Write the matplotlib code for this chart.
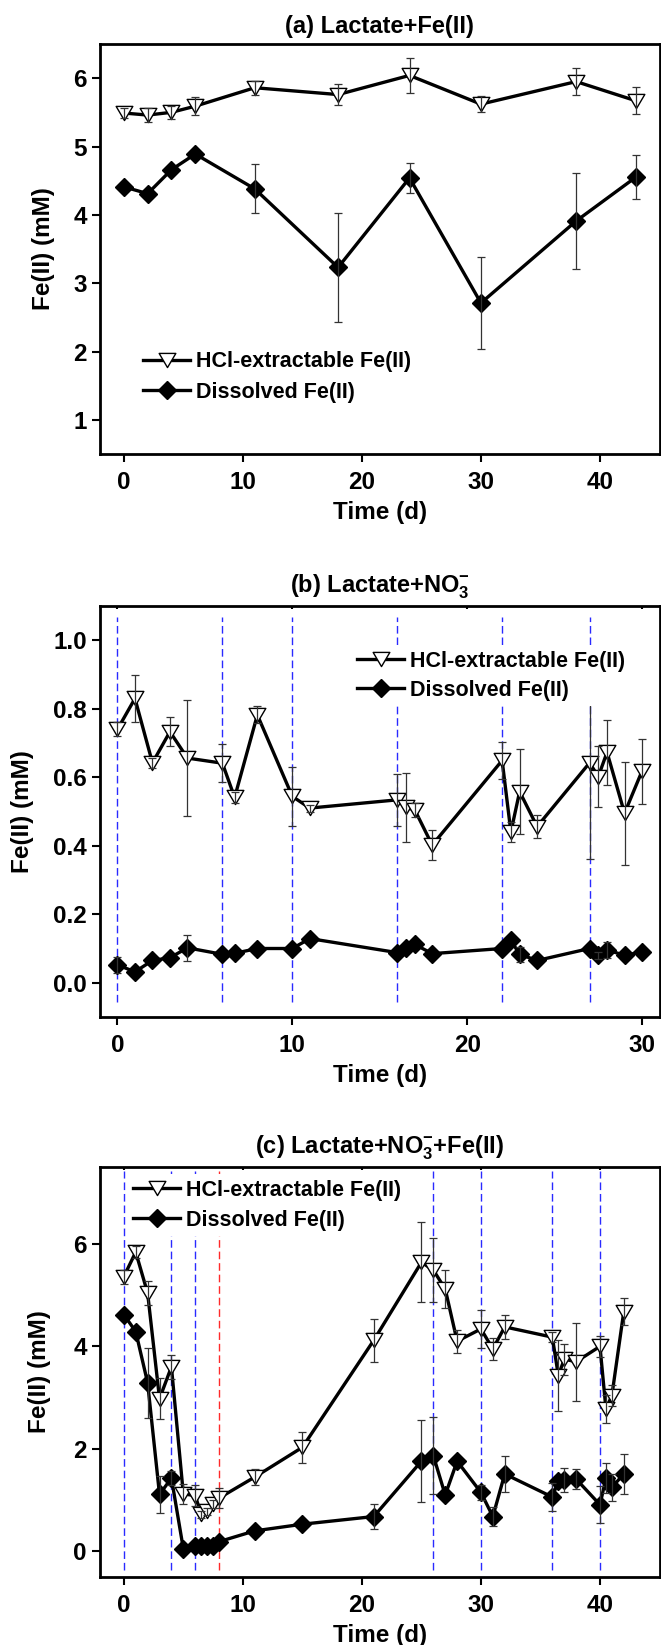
import matplotlib
matplotlib.use('Agg')
import matplotlib.pyplot as plt
from matplotlib.path import Path
from matplotlib.ticker import FormatStrFormatter
import numpy as np

plt.rcParams['font.family'] = ['Liberation Sans', 'DejaVu Sans']
plt.rcParams['font.weight'] = 'bold'
plt.rcParams['mathtext.fontset'] = 'custom'
plt.rcParams['mathtext.rm'] = 'Liberation Sans:bold'
plt.rcParams['mathtext.bf'] = 'Liberation Sans:bold'
plt.rcParams['mathtext.it'] = 'Liberation Sans:bold'
plt.rcParams['mathtext.default'] = 'rm'

# ---------------- data ----------------
# (a) Lactate+Fe(II)
time_a = [0, 2, 4, 6, 11, 18, 24, 30, 38, 43]
hcl_a = [5.49, 5.46, 5.50, 5.59, 5.86, 5.76, 6.04, 5.62, 5.95, 5.67]
hcl_a_err = [0.08, 0.10, 0.10, 0.13, 0.10, 0.15, 0.26, 0.12, 0.20, 0.20]
dis_a = [4.41, 4.31, 4.66, 4.89, 4.38, 3.23, 4.54, 2.71, 3.91, 4.55]
dis_a_err = [0, 0, 0, 0, 0.36, 0.80, 0.22, 0.67, 0.70, 0.32]

# (b) Lactate+NO3-
time_b = [0, 1, 2, 3, 4, 6, 6.7, 8, 10, 11, 16, 16.5, 17, 18, 22, 22.5, 23, 24,
          27, 27.5, 28, 29, 30]
hcl_b = [0.74, 0.83, 0.642, 0.733, 0.656, 0.641, 0.541, 0.782, 0.544, 0.51,
         0.534, 0.512, 0.505, 0.402, 0.649, 0.44, 0.558, 0.456, 0.642, 0.602,
         0.673, 0.495, 0.618]
hcl_b_err = [0.02, 0.07, 0.015, 0.042, 0.17, 0.055, 0.015, 0.025, 0.085, 0.01,
             0.075, 0.10, 0.02, 0.045, 0.055, 0.03, 0.125, 0.033, 0.28, 0.09,
             0.095, 0.15, 0.095]
dis_b = [0.052, 0.032, 0.065, 0.073, 0.102, 0.083, 0.086, 0.10, 0.10, 0.129,
         0.088, 0.102, 0.112, 0.085, 0.10, 0.124, 0.083, 0.065, 0.10, 0.08,
         0.096, 0.08, 0.09]
dis_b_err = [0.024, 0, 0, 0, 0.038, 0, 0, 0, 0, 0, 0, 0, 0, 0, 0, 0, 0.021, 0,
             0, 0.01, 0.023, 0, 0]
vlines_b_blue = [0, 6, 10, 16, 22, 27]

# (c) Lactate+NO3-+Fe(II)
time_c = [0, 1, 2, 3, 4, 5, 6, 6.5, 7, 7.5, 8, 11, 15, 21, 25, 26, 27, 28, 30,
          31, 32, 36, 36.5, 37, 38, 40, 40.5, 41, 42]
hcl_c = [5.36, 5.84, 5.04, 2.98, 3.60, 1.12, 1.09, 0.72, 0.78, 0.92, 1.04, 1.45,
         2.03, 4.12, 5.64, 5.49, 5.12, 4.10, 4.34, 3.95, 4.38, 4.18, 3.43, 3.75,
         3.70, 4.00, 2.78, 3.04, 4.68]
hcl_c_err = [0.14, 0.12, 0.24, 0.40, 0.24, 0.20, 0.20, 0.07, 0.07, 0.08, 0.20,
             0.15, 0.30, 0.42, 0.78, 0.62, 0.37, 0.22, 0.37, 0.21, 0.24, 0.10,
             0.70, 0.30, 0.76, 0.20, 0.28, 0.20, 0.26]
dis_c = [4.62, 4.29, 3.29, 1.11, 1.43, 0.05, 0.10, 0.10, 0.10, 0.10, 0.19, 0.40,
         0.53, 0.68, 1.76, 1.87, 1.10, 1.76, 1.15, 0.68, 1.51, 1.06, 1.38, 1.39,
         1.41, 0.91, 1.43, 1.25, 1.51]
dis_c_err = [0, 0, 0.68, 0.37, 0.13, 0, 0, 0, 0, 0, 0, 0, 0, 0.25, 0.80, 0.75,
             0, 0, 0.15, 0.19, 0.36, 0.28, 0, 0.23, 0.20, 0.36, 0.30, 0.26, 0.39]
vlines_c_blue = [0, 4, 6, 26, 30, 36, 40]
vlines_c_red = [8]

label_hcl = 'HCl-extractable Fe(II)'
label_dis = 'Dissolved Fe(II)'

# ---------------- style ----------------
W, H = 661, 1645
fig = plt.figure(figsize=(W / 100, H / 100), dpi=100)

tri = Path([(-1, 0.85), (1, 0.85), (0, -0.85), (-1, 0.85)],
           [Path.MOVETO, Path.LINETO, Path.LINETO, Path.CLOSEPOLY])

AX_L, AX_R = 100, 659.5
LEG_FS = 15.5
LEG_PX = LEG_FS * 100 / 72


def rect(top, bottom):
    return [AX_L / W, 1 - bottom / H, (AX_R - AX_L) / W, (bottom - top) / H]


def panel(top, bottom, t, hcl, hcl_err, dis, dis_err, xlim, ylim, xticks,
          yticks, title, tpad, blue, red, vspan, leg_hx, leg_row1, leg_sp,
          ylab_right, yfmt=None, toptick=False):
    ax = fig.add_axes(rect(top, bottom))
    ax.set_xlim(*xlim)
    ax.set_ylim(*ylim)
    for v in blue:
        ax.vlines(v, vspan[0], vspan[1], colors='#2a2aff', lw=1.0,
                  linestyles=(0, (5.5, 2.8)), zorder=1)
    for v in red:
        ax.vlines(v, vspan[0], vspan[1], colors='#ff2a2a', lw=1.0,
                  linestyles=(0, (5.5, 2.8)), zorder=1)
    ax.plot(t, hcl, color='k', lw=2.4, marker=tri, ms=12, mfc='white',
            mec='k', mew=1, zorder=3, label=label_hcl)
    ax.plot(t, dis, color='k', lw=2.4, marker='D', ms=9, mfc='k', mec='k',
            mew=1, zorder=3, label=label_dis)
    for yv, ev in ((hcl, hcl_err), (dis, dis_err)):
        tt = np.array(t, float)
        yy = np.array(yv, float)
        ee = np.array(ev, float)
        m = ee > 0
        ax.errorbar(tt[m], yy[m], yerr=ee[m], fmt='none', ecolor='#333333',
                    elinewidth=0.9, capsize=3, capthick=0.9, zorder=4)
    ax.set_xticks(xticks)
    ax.set_yticks(yticks)
    if yfmt:
        ax.yaxis.set_major_formatter(FormatStrFormatter(yfmt))
    ax.tick_params(axis='both', direction='out', length=6, width=1.5,
                   labelsize=17.5)
    ax.tick_params(axis='x', pad=6.5)
    ax.tick_params(axis='y', pad=3.5)
    if toptick:
        ax.tick_params(axis='x', which='major', top=True, labeltop=False)
        for tk in ax.xaxis.get_major_ticks():
            tk.tick2line.set_markersize(2.5)
            tk.tick2line.set_marker(3)
    for s in ax.spines.values():
        s.set_linewidth(2)
    ax.set_title(title, fontsize=17, fontweight='bold', pad=tpad)
    ax.set_xlabel('Time (d)', fontsize=17.5, fontweight='bold', labelpad=5)
    ax.set_ylabel('Fe(II) (mM)', fontsize=17.5, fontweight='bold')
    ax.yaxis.set_label_coords((ylab_right - AX_L) / (AX_R - AX_L), 0.5)
    # legend
    bp = 0.25
    text_h = 0.97 * LEG_PX
    ls = (leg_sp - text_h) / LEG_PX
    ax_h = bottom - top
    ax_w = AX_R - AX_L
    ax_x = (leg_hx - bp * LEG_PX - AX_L) / ax_w
    ax_y = 1 - (leg_row1 + 2 - text_h / 2 - bp * LEG_PX - top) / ax_h
    leg = ax.legend(loc='upper left', bbox_to_anchor=(ax_x, ax_y),
                    frameon=True, facecolor='white', edgecolor='none',
                    framealpha=1, fancybox=False, fontsize=LEG_FS,
                    handlelength=2.2, handletextpad=0.25, borderpad=bp,
                    labelspacing=ls, borderaxespad=0)
    leg.set_zorder(10)
    return ax


panel(44, 454, time_a, hcl_a, hcl_a_err, dis_a, dis_a_err,
      (-2, 45), (0.5, 6.5), [0, 10, 20, 30, 40], [1, 2, 3, 4, 5, 6],
      '(a) Lactate+Fe(II)', 8, [], [], (0, 0), 143, 359.5, 30.7, 55)

panel(606, 1017, time_b, hcl_b, hcl_b_err, dis_b, dis_b_err,
      (-1, 31), (-0.1, 1.1), [0, 10, 20, 30], [0.0, 0.2, 0.4, 0.6, 0.8, 1.0],
      r'(b) Lactate+NO$_{3}^{-}$', 9.6, vlines_b_blue, [], (-0.055, 1.068),
      357, 659.3, 29, 34, yfmt='%.1f', toptick=True)

panel(1167, 1577, time_c, hcl_c, hcl_c_err, dis_c, dis_c_err,
      (-2, 45), (-0.5, 7.5), [0, 10, 20, 30, 40], [0, 2, 4, 6],
      r'(c) Lactate+NO$_{3}^{-}$+Fe(II)', 9.6, vlines_c_blue, vlines_c_red,
      (-0.36, 7.43), 133, 1188.3, 30, 51, toptick=True)

fig.savefig('out.png', dpi=100)
